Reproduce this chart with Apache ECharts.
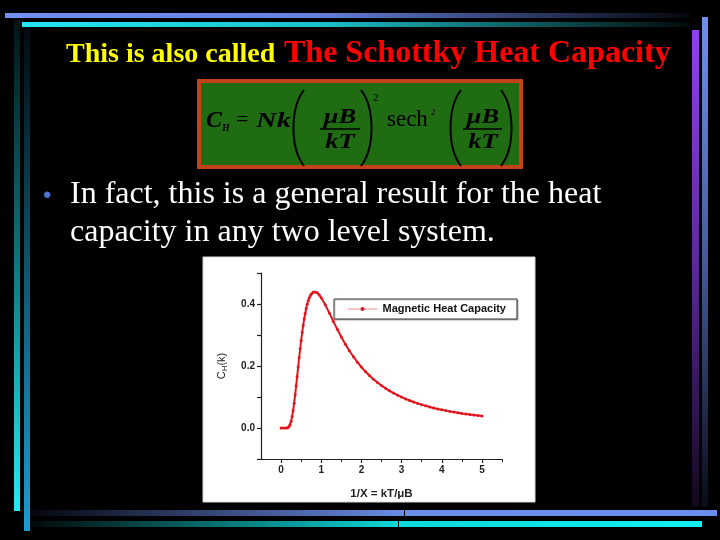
<!DOCTYPE html>
<html><head><meta charset="utf-8">
<script src="https://cdn.jsdelivr.net/npm/echarts@6/dist/echarts.min.js"></script>
<style>html,body{margin:0;padding:0;background:#000}#c{width:720px;height:540px}</style>
</head><body><div id="c"></div>
<script>
// kT/muB values (x) and heat capacity readings (y)
const tValues = [0, 0.05, 0.1, 0.15, 0.175, 0.2, 0.225, 0.25, 0.275, 0.3, 0.325, 0.35, 0.375, 0.4, 0.425, 0.45, 0.475, 0.5, 0.525, 0.55, 0.575, 0.6, 0.625, 0.65, 0.675, 0.7, 0.725, 0.75, 0.8, 0.85, 0.9, 0.95, 1.0,
  1.1, 1.2, 1.3, 1.4, 1.5, 1.6, 1.7, 1.8, 1.9, 2.0, 2.1, 2.2, 2.3, 2.4, 2.5, 2.6, 2.7, 2.8, 2.9, 3.0,
  3.1, 3.2, 3.3, 3.4, 3.5, 3.6, 3.7, 3.8, 3.9, 4.0, 4.1, 4.2, 4.3, 4.4, 4.5, 4.6, 4.7, 4.8, 4.9, 5.0];
const cValues = [0, 0, 0.0000, 0.0003, 0.0014, 0.0045, 0.0109, 0.0215, 0.0367, 0.0564, 0.0801, 0.1070, 0.1360, 0.1662, 0.1967, 0.2266, 0.2554, 0.2826, 0.3078, 0.3308, 0.3514, 0.3695, 0.3854, 0.3989, 0.4101, 0.4193, 0.4265, 0.4320, 0.4382, 0.4390, 0.4359, 0.4291, 0.4200,
  0.3972, 0.3712, 0.3445, 0.3183, 0.2935, 0.2705, 0.2493, 0.2300, 0.2125, 0.1966, 0.1821, 0.1692, 0.1573, 0.1466, 0.1369, 0.1281, 0.1199, 0.1126, 0.1058, 0.0996,
  0.0939, 0.0887, 0.0839, 0.0794, 0.0753, 0.0715, 0.0680, 0.0647, 0.0616, 0.0588, 0.0561, 0.0536, 0.0513, 0.0491, 0.0470, 0.0451, 0.0433, 0.0416, 0.0400, 0.0384];
const xTickValues = [0, 1, 2, 3, 4, 5];
const xMinorTickValues = [0.5, 1.5, 2.5, 3.5, 4.5, 5.5];
const yTickValues = [0, 0.2, 0.4];
const yAllTickValues = [-0.1, 0, 0.1, 0.2, 0.3, 0.4, 0.5];
const seriesName = 'Magnetic Heat Capacity';
const titleYellow = 'This is also called';
const titleRed = 'The Schottky Heat Capacity';
const bulletLines = ['In fact, this is a general result for the heat', 'capacity in any two level system.'];

const chart = echarts.init(document.getElementById('c'), null, {renderer: 'canvas'});
const LG = echarts.graphic.LinearGradient;
function hgrad(stops){ return new LG(0,0,1,0,stops.map(s=>({offset:s[0],color:s[1]}))); }
function vgrad(stops){ return new LG(0,0,0,1,stops.map(s=>({offset:s[0],color:s[1]}))); }
const serif = '"Liberation Serif","Times New Roman",serif';
const sans = '"Liberation Sans",Arial,sans-serif';
function txt(x,y,text,font,fill,align,extra){
  return Object.assign({type:'text', x:x, y:y, z:5, style:{text:text, font:font, fill:fill||'#000', align:align||'left', verticalAlign:'middle'}}, extra||{});
}
function paren(x1, cx, yTop, yBot){
  return {type:'bezierCurve', z:5, shape:{x1:x1,y1:yTop,x2:x1,y2:yBot,cpx1:cx,cpy1:yTop+18,cpx2:cx,cpy2:yBot-18}, style:{stroke:'#000', lineWidth:2, fill:'none'}};
}
const fBI = 'italic bold 22px ' + serif;
const graphics = [
  // slide decorations
  {type:'rect', z:-5, shape:{x:5,y:13,width:685,height:5}, style:{fill:hgrad([[0,'#7090f0'],[0.45,'#6580e0'],[1,'#05060c']])}},
  {type:'rect', z:-5, shape:{x:22,y:22,width:668,height:5}, style:{fill:hgrad([[0,'#22e8f0'],[0.45,'#1cc0c8'],[1,'#020a0a']])}},
  {type:'rect', z:-5, shape:{x:14,y:20,width:6,height:491}, style:{fill:vgrad([[0,'#021414'],[0.5,'#0c7880'],[1,'#22eef6']])}},
  {type:'rect', z:-5, shape:{x:24,y:27,width:6,height:504}, style:{fill:vgrad([[0,'#020a10'],[0.5,'#105870'],[1,'#1e9cd0']])}},
  {type:'rect', z:-5, shape:{x:692,y:30,width:7,height:477}, style:{fill:vgrad([[0,'#9040f0'],[0.5,'#5a2898'],[1,'#12081c']])}},
  {type:'rect', z:-5, shape:{x:702,y:17,width:6,height:490}, style:{fill:vgrad([[0,'#7090f0'],[0.5,'#445a98'],[1,'#0a0c16']])}},
  {type:'rect', z:-5, shape:{x:30,y:510,width:687,height:6}, style:{fill:hgrad([[0,'#04060c'],[0.55,'#6a8ee8'],[1,'#6a8ef0']])}},
  {type:'rect', z:-5, shape:{x:30,y:521,width:672,height:6}, style:{fill:hgrad([[0,'#020808'],[0.55,'#10d8d8'],[1,'#10f0f0']])}},
  {type:'rect', z:-4, shape:{x:404,y:510,width:1,height:6}, style:{fill:'#000'}},
  {type:'rect', z:-4, shape:{x:398,y:521,width:1,height:6}, style:{fill:'#000'}},
  // title
  txt(66, 55, titleYellow, 'bold 28px ' + serif, '#ffff00'),
  txt(284, 54, titleRed, 'bold 32px ' + serif, '#ff0000'),
  // formula box
  {type:'rect', z:1, shape:{x:199,y:81,width:322,height:86}, style:{fill:'#1f6c13', stroke:'#c4441a', lineWidth:4}},
  txt(206, 121, 'C', 'italic bold 24px ' + serif),
  txt(222, 128, 'H', 'italic bold 10px ' + serif),
  txt(236, 120, '=', '22px ' + serif),
  txt(256, 121, 'Nk', fBI, '#000', 'left', {scaleX:1.3}),
  paren(304, 290, 90, 166),
  txt(340, 117, 'μB', fBI, '#000', 'center', {scaleX:1.2}),
  {type:'line', z:5, shape:{x1:320,y1:129,x2:360,y2:129}, style:{stroke:'#000', lineWidth:1.5}},
  txt(340, 142, 'kT', fBI, '#000', 'center', {scaleX:1.2}),
  paren(361, 375, 90, 166),
  txt(373, 98, '2', '11px ' + serif),
  txt(387, 120, 'sech', '23px ' + serif),
  txt(431, 113, '2', '9px ' + serif),
  paren(461, 447, 90, 166),
  txt(483, 117, 'μB', fBI, '#000', 'center', {scaleX:1.2}),
  {type:'line', z:5, shape:{x1:463,y1:129,x2:502,y2:129}, style:{stroke:'#000', lineWidth:1.5}},
  txt(483, 142, 'kT', fBI, '#000', 'center', {scaleX:1.2}),
  paren(501, 515, 90, 166),
  // bullet text
  txt(43, 196, '•', '24px ' + sans, '#4a74d4'),
  txt(70, 195, bulletLines[0], '32px ' + serif, '#ffffff'),
  txt(70, 233, bulletLines[1], '32px ' + serif, '#ffffff'),
  // chart panel
  {type:'rect', z:-3, shape:{x:203,y:257,width:332,height:245}, style:{fill:'#ffffff', stroke:'#d8d8d8', lineWidth:1}}
];

const axisColor = '#222';
const option = {
  backgroundColor: '#000',
  animation: false,
  graphic: graphics,
  grid: {left: 261, right: 218, top: 273, bottom: 81, containLabel: false},
  legend: {
    show: true, left: 334, top: 299, padding: [4, 11, 4, 13],
    itemWidth: 30, itemHeight: 5, itemGap: 5,
    backgroundColor: '#fff', borderColor: '#333', borderWidth: 1, borderRadius: 0,
    shadowColor: 'rgba(0,0,0,0.25)', shadowOffsetX: 1, shadowOffsetY: 1, shadowBlur: 1,
    textStyle: {fontFamily: sans, fontWeight: 'bold', fontSize: 11, color: '#111', lineHeight: 12},
    lineStyle: {width: 1, color: '#e89090'},
    data: [seriesName]
  },
  xAxis: [{
    type: 'value', min: -0.5, max: 5.5, interval: 0.5,
    splitLine: {show: false},
    axisLine: {show: true, onZero: false, lineStyle: {color: axisColor, width: 1.2}},
    axisTick: {show: true, length: 4, customValues: xTickValues, lineStyle: {color: axisColor, width: 1.2}},
    axisLabel: {customValues: xTickValues, margin: 6, fontFamily: sans, fontWeight: 'bold', fontSize: 10, color: '#222', formatter: v => String(v)},
    name: '1/X = kT/μB', nameLocation: 'middle', nameGap: 29,
    nameTextStyle: {fontFamily: sans, fontWeight: 'bold', fontSize: 11.5, color: '#222'}
  }, {
    type: 'value', min: -0.5, max: 5.5, interval: 0.5, position: 'bottom', offset: 0,
    splitLine: {show: false},
    axisLine: {show: false, onZero: false},
    axisTick: {show: true, length: 3, customValues: xMinorTickValues, lineStyle: {color: axisColor, width: 1}},
    axisLabel: {show: false}
  }],
  yAxis: {
    type: 'value', min: -0.1, max: 0.5, interval: 0.1,
    splitLine: {show: false},
    axisLine: {show: true, onZero: false, lineStyle: {color: axisColor, width: 1.2}},
    axisTick: {show: true, length: 4, customValues: yAllTickValues, lineStyle: {color: axisColor, width: 1.2}},
    axisLabel: {customValues: yTickValues, margin: 6, fontFamily: sans, fontWeight: 'bold', fontSize: 10, color: '#222', formatter: v => v.toFixed(1)},
    name: '{c|C}{s|H}{c|(k)}', nameLocation: 'middle', nameGap: 32,
    nameTextStyle: {rich: {c: {fontFamily: sans, fontSize: 11, color: '#222'}, s: {fontFamily: sans, fontSize: 8, color: '#222', padding: [6, 0, 0, 0]}}}
  },
  series: [{
    name: seriesName, type: 'line', xAxisIndex: 0,
    data: tValues.map((t, i) => [t, cValues[i]]),
    symbol: 'circle', symbolSize: 3, showAllSymbol: true,
    lineStyle: {color: '#e0161e', width: 2},
    itemStyle: {color: '#e0161e'},
    z: 3
  }]
};
chart.setOption(option);
</script></body></html>
